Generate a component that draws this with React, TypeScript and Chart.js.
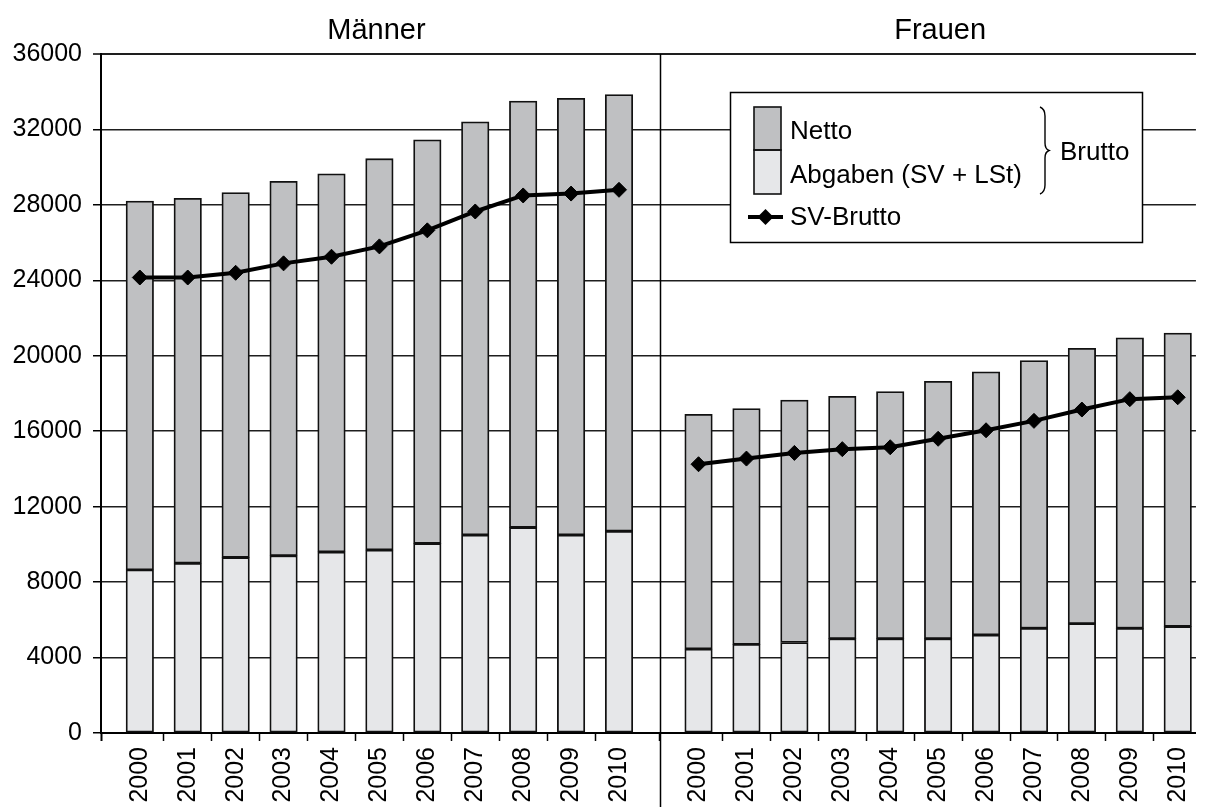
import React, { useEffect, useRef } from 'react';
import { Chart, registerables } from 'chart.js';

Chart.register(...registerables);

// ---------- data ----------
const YEARS = ['2000', '2001', '2002', '2003', '2004', '2005', '2006', '2007', '2008', '2009', '2010'];
const PANEL_TITLES = ['Männer', 'Frauen'];

const MEN_ABGABEN = [8650, 9000, 9300, 9400, 9600, 9700, 10050, 10500, 10900, 10500, 10700];
const MEN_NETTO = [19550, 19350, 19350, 19850, 20050, 20750, 21400, 21900, 22600, 23150, 23150];
const MEN_SV_BRUTTO = [24150, 24150, 24400, 24900, 25250, 25800, 26650, 27650, 28500, 28600, 28800];

const WOMEN_ABGABEN = [4450, 4700, 4800, 5000, 5000, 5000, 5200, 5550, 5800, 5550, 5650];
const WOMEN_NETTO = [12450, 12500, 12850, 12850, 13100, 13650, 13950, 14200, 14600, 15400, 15550];
const WOMEN_SV_BRUTTO = [14250, 14550, 14850, 15050, 15150, 15600, 16050, 16550, 17150, 17700, 17800];

const LEGEND_NETTO = 'Netto';
const LEGEND_ABGABEN = 'Abgaben (SV + LSt)';
const LEGEND_SV = 'SV-Brutto';
const LEGEND_BRUTTO = 'Brutto';

const Y_MIN = 0;
const Y_MAX = 36000;
const Y_STEP = 4000;

// ---------- layout ----------
const X_MIN = -0.81;
const X_MAX = 22.04;
const DIVIDER = 10.85;
const WOMEN_START = 11.66;
const FONT = '"Liberation Sans", Arial, Helvetica, sans-serif';
const NETTO_COLOR = '#bfc0c2';
const ABGABEN_COLOR = '#e6e7e9';
const EDGE = '#111111';

const menX = (i: number) => i;
const womenX = (i: number) => WOMEN_START + i;

function drawDiamond(ctx: CanvasRenderingContext2D, x: number, y: number, r: number) {
  ctx.beginPath();
  ctx.moveTo(x - r, y);
  ctx.lineTo(x, y - r);
  ctx.lineTo(x + r, y);
  ctx.lineTo(x, y + r);
  ctx.closePath();
  ctx.fill();
}

const overlayPlugin = {
  id: 'overlay',
  afterDraw(chart: any) {
    const ctx: CanvasRenderingContext2D = chart.ctx;
    const xs = chart.scales.x;
    const area = chart.chartArea;
    ctx.save();

    // divider between panels
    const dx = Math.round(xs.getPixelForValue(DIVIDER)) + 0.5;
    ctx.strokeStyle = '#000';
    ctx.lineWidth = 1.5;
    ctx.beginPath();
    ctx.moveTo(dx, area.top);
    ctx.lineTo(dx, chart.height);
    ctx.stroke();

    // panel titles
    ctx.fillStyle = '#000';
    ctx.font = `29px ${FONT}`;
    ctx.textAlign = 'center';
    ctx.textBaseline = 'alphabetic';
    const n = YEARS.length - 1;
    const mc = (xs.getPixelForValue(menX(0)) + xs.getPixelForValue(menX(n))) / 2 - 3;
    const wc = (xs.getPixelForValue(womenX(0)) + xs.getPixelForValue(womenX(n))) / 2 + 2;
    ctx.fillText(PANEL_TITLES[0], mc, 39);
    ctx.fillText(PANEL_TITLES[1], wc, 39);

    // legend box
    const lx = 730, ly = 92, lw = 412, lh = 150;
    ctx.fillStyle = '#fff';
    ctx.fillRect(lx, ly, lw, lh);
    ctx.strokeStyle = '#000';
    ctx.lineWidth = 1.5;
    ctx.strokeRect(lx + 0.5, ly + 0.5, lw, lh);

    // swatches
    ctx.fillStyle = NETTO_COLOR;
    ctx.fillRect(754, 107, 27, 43);
    ctx.fillStyle = ABGABEN_COLOR;
    ctx.fillRect(754, 150, 27, 44);
    ctx.strokeStyle = EDGE;
    ctx.lineWidth = 1.6;
    ctx.strokeRect(754, 107, 27, 43);
    ctx.strokeRect(754, 150, 27, 44);

    // SV line sample
    ctx.strokeStyle = '#000';
    ctx.lineWidth = 4;
    ctx.beginPath();
    ctx.moveTo(748, 217);
    ctx.lineTo(783, 217);
    ctx.stroke();
    ctx.fillStyle = '#000';
    drawDiamond(ctx, 765.5, 217, 8);

    // brace
    ctx.lineWidth = 1.4;
    ctx.beginPath();
    ctx.moveTo(1040, 107);
    ctx.quadraticCurveTo(1045, 109, 1045, 116);
    ctx.lineTo(1045, 143);
    ctx.quadraticCurveTo(1045, 149, 1049, 150.5);
    ctx.quadraticCurveTo(1045, 152, 1045, 158);
    ctx.lineTo(1045, 185);
    ctx.quadraticCurveTo(1045, 192, 1040, 194);
    ctx.stroke();

    // legend texts
    ctx.fillStyle = '#000';
    ctx.font = `26px ${FONT}`;
    ctx.textAlign = 'left';
    ctx.textBaseline = 'alphabetic';
    ctx.fillText(LEGEND_NETTO, 790, 139);
    ctx.fillText(LEGEND_ABGABEN, 790, 183);
    ctx.fillText(LEGEND_BRUTTO, 1060, 160);
    ctx.fillText(LEGEND_SV, 790, 225);

    ctx.restore();
  },
};

export default function App() {
  const canvasRef = useRef<HTMLCanvasElement | null>(null);

  useEffect(() => {
    if (!canvasRef.current) return;

    const abgabenData = [
      ...MEN_ABGABEN.map((v, i) => ({ x: menX(i), y: v })),
      ...WOMEN_ABGABEN.map((v, i) => ({ x: womenX(i), y: v })),
    ];
    const nettoData = [
      ...MEN_NETTO.map((v, i) => ({ x: menX(i), y: v })),
      ...WOMEN_NETTO.map((v, i) => ({ x: womenX(i), y: v })),
    ];
    const menLine = MEN_SV_BRUTTO.map((v, i) => ({ x: menX(i), y: v }));
    const womenLine = WOMEN_SV_BRUTTO.map((v, i) => ({ x: womenX(i), y: v }));

    const lineStyle = {
      type: 'line' as const,
      borderColor: '#000',
      borderWidth: 4,
      pointStyle: 'rectRot',
      pointRadius: 7.5,
      pointBorderWidth: 1,
      pointBackgroundColor: '#000',
      pointBorderColor: '#000',
      tension: 0,
      fill: false,
      order: 0,
    };
    const barStyle = {
      type: 'bar' as const,
      barThickness: 27.5,
      borderWidth: 1.8,
      borderColor: EDGE,
      borderSkipped: false,
      stack: 'bars',
      order: 1,
    };

    const chart = new Chart(canvasRef.current, {
      type: 'bar',
      data: {
        datasets: [
          { ...barStyle, label: LEGEND_ABGABEN, data: abgabenData, backgroundColor: ABGABEN_COLOR },
          { ...barStyle, label: LEGEND_NETTO, data: nettoData, backgroundColor: NETTO_COLOR },
          { ...lineStyle, label: LEGEND_SV, data: menLine, stack: 'm' },
          { ...lineStyle, label: LEGEND_SV + ' F', data: womenLine, stack: 'f' },
        ] as any,
      },
      options: {
        animation: false,
        responsive: true,
        maintainAspectRatio: false,
        layout: { padding: { left: 0, right: 16, top: 54, bottom: 0 } },
        plugins: {
          legend: { display: false },
          tooltip: { enabled: false },
          title: { display: false },
        },
        scales: {
          x: {
            type: 'linear',
            min: X_MIN,
            max: X_MAX,
            offset: false,
            stacked: true,
            afterBuildTicks: (scale: any) => {
              const ticks: any[] = [{ value: X_MIN, kind: 'edge' }];
              YEARS.forEach((y, i) => {
                ticks.push({ value: menX(i), kind: 'label', year: y });
                if (i < YEARS.length - 1) ticks.push({ value: menX(i) + 0.5, kind: 'mark' });
              });
              ticks.push({ value: DIVIDER, kind: 'mark' });
              YEARS.forEach((y, i) => {
                ticks.push({ value: womenX(i), kind: 'label', year: y });
                if (i < YEARS.length - 1) ticks.push({ value: womenX(i) + 0.5, kind: 'mark' });
              });
              scale.ticks = ticks;
            },
            afterFit: (scale: any) => {
              scale.height = 74;
            },
            ticks: {
              autoSkip: false,
              minRotation: 90,
              maxRotation: 90,
              padding: 6,
              color: '#000',
              font: { size: 25, family: FONT },
              callback: (_v: any, i: number, ticks: any[]) => (ticks[i].kind === 'label' ? ticks[i].year : ''),
            },
            grid: {
              offset: false,
              drawOnChartArea: false,
              tickLength: 8,
              tickWidth: (c: any) => (c.tick && c.tick.kind === 'edge' ? 2 : 1.5),
              tickColor: (c: any) => (c.tick && c.tick.kind !== 'label' ? '#000' : 'rgba(0,0,0,0)'),
            },
            border: { display: true, color: '#000', width: 2 },
          } as any,
          y: {
            stacked: true,
            min: Y_MIN,
            max: Y_MAX,
            afterFit: (scale: any) => {
              scale.width = 101;
            },
            ticks: {
              stepSize: Y_STEP,
              padding: 11,
              color: '#000',
              font: { size: 25, family: FONT },
              callback: (v: any) => String(v),
            },
            grid: {
              color: '#1e1e1e',
              lineWidth: (c: any) => (c.tick && c.tick.value === Y_MAX ? 2 : 1.5),
              tickLength: 8,
              tickColor: '#000',
              tickWidth: 1.5,
            },
            border: { display: true, color: '#000', width: 2 },
          },
        },
      },
      plugins: [overlayPlugin],
    });

    return () => chart.destroy();
  }, []);

  return (
    <div style={{ position: 'fixed', left: 0, top: 0, width: 1214, height: 807, background: '#fff' }}>
      <canvas ref={canvasRef} />
    </div>
  );
}
